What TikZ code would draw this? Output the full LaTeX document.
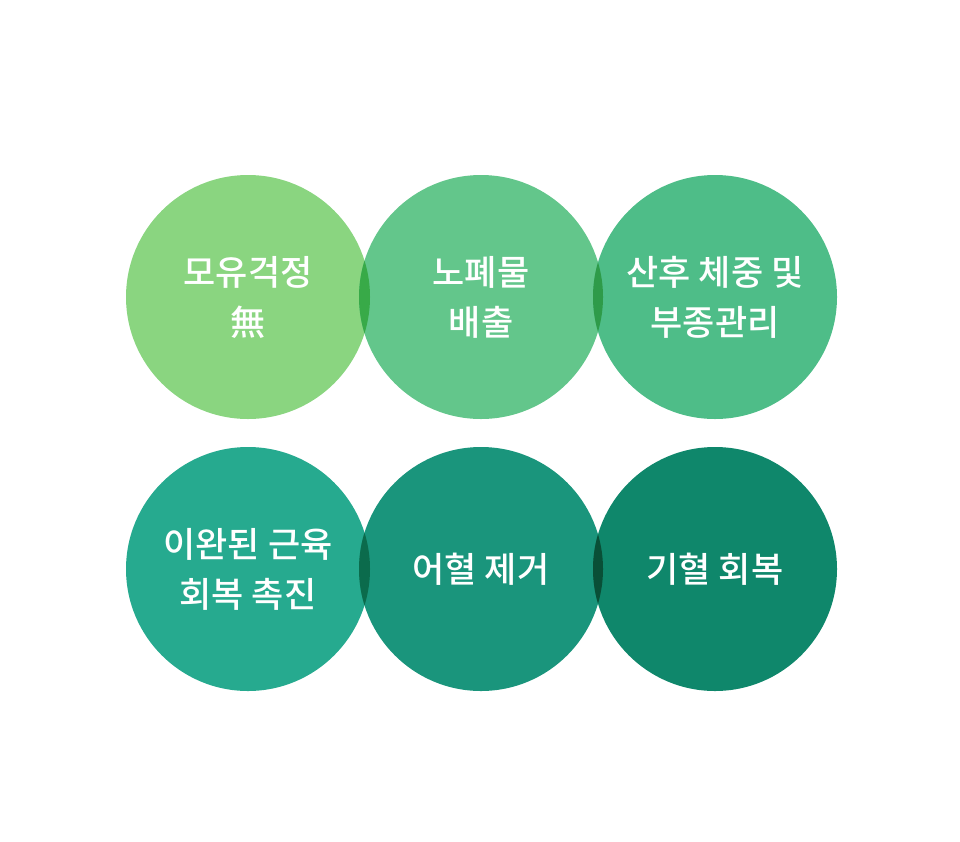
\documentclass[tikz,border=0pt]{standalone}
\usepackage{fontspec}
\newfontfamily\kofont{Noto Sans CJK KR Medium}
\definecolor{cA}{HTML}{8AD580}
\definecolor{cB}{HTML}{63C68B}
\definecolor{cC}{HTML}{4EBD88}
\definecolor{cD}{HTML}{26AA8F}
\definecolor{cE}{HTML}{1A957C}
\definecolor{cF}{HTML}{0F876B}
\definecolor{lensA}{HTML}{38AA48}
\definecolor{lensB}{HTML}{2E9B49}
\definecolor{lensC}{HTML}{0B6B4C}
\definecolor{lensD}{HTML}{094F37}
\tikzset{
  bubble/.style={circle, minimum size=244pt, inner sep=0pt, text=white,
    align=center, font=\kofont\fontsize{35}{50}\selectfont},
}
\begin{document}
\begin{tikzpicture}[x=1pt, y=1pt]
    \useasboundingbox (0,0) rectangle (960,-841);
    % 원
    \node[bubble, fill=cA] (mo) at (248,-297) {모유걱정\\無};
    \node[bubble, fill=cB] (no) at (481,-297) {노폐물\\배출};
    \node[bubble, fill=cC] (san) at (715,-297) {산후 체중 및\\부종관리};
    \node[bubble, fill=cD] (gun) at (248,-569) {이완된 근육\\회복 촉진};
    \node[bubble, fill=cE] (eo) at (481,-569) {어혈 제거};
    \node[bubble, fill=cF] (gi) at (715,-569) {기혈 회복};
    % 겹친 부분
    \foreach \a/\b/\c in {mo/no/lensA, no/san/lensB, gun/eo/lensC, eo/gi/lensD} {
      \begin{scope}
        \clip (\a.center) circle (122);
        \fill[\c] (\b.center) circle (122);
      \end{scope}
    }
\end{tikzpicture}
\end{document}
